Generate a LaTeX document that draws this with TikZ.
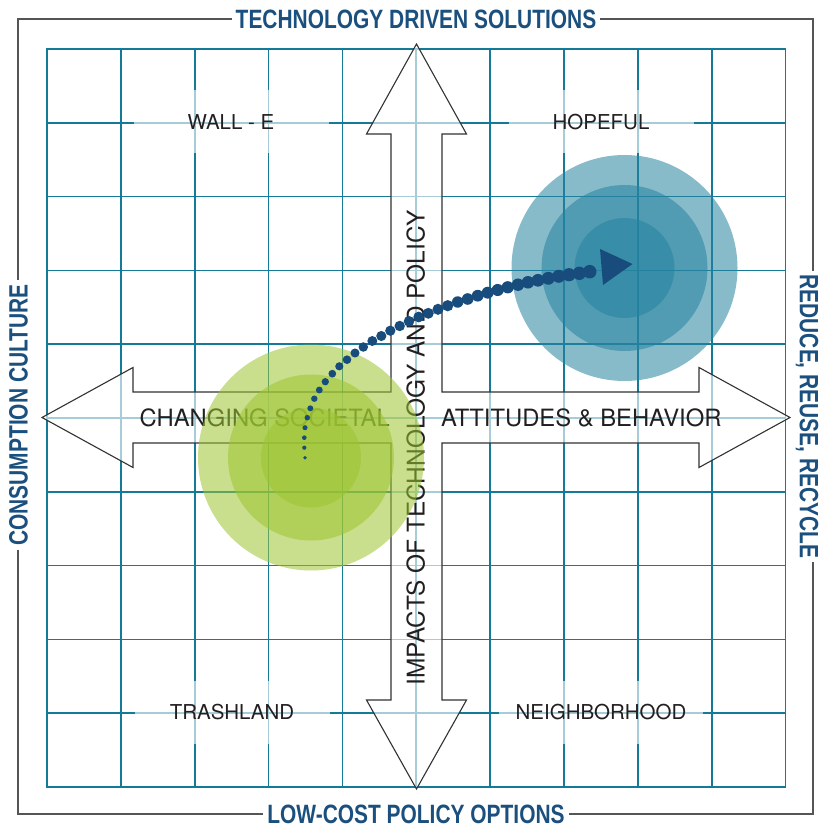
\documentclass[tikz,border=0pt]{standalone}
\usepackage{fontspec}
\setmainfont{TeX Gyre Heros}
\newfontfamily\titlefont[FakeStretch=0.79]{Liberation Sans}
\definecolor{gridteal}{RGB}{20,122,152}
\definecolor{txtgray}{RGB}{35,31,32}
\definecolor{titleblue}{RGB}{27,80,126}
\definecolor{dotblue}{RGB}{24,76,125}
\definecolor{bluecirc}{RGB}{37,132,160}
\definecolor{greencirc}{RGB}{157,197,48}
\definecolor{framegray}{RGB}{85,85,85}
\definecolor{arrowgray}{RGB}{50,50,50}
\tikzset{
  gridline/.style={draw=gridteal, line width=1.7pt, line cap=rect},
  framestyle/.style={draw=framegray, line width=1.4pt},
  quadlabel/.style={fill=white, fill opacity=0.62, text opacity=1, text=txtgray, inner sep=0pt,
    minimum height=63pt, text height=14.7pt, text depth=0pt, font=\fontsize{20.5}{24}\selectfont},
  axislabel/.style={text=txtgray, inner sep=0pt, text height=17pt, text depth=0pt,
    font=\fontsize{23.8}{27}\selectfont},
  vaxislabel/.style={axislabel, font=\fontsize{24.4}{28}\selectfont},
  titlelabel/.style={fill=white, text=titleblue, inner xsep=4pt, inner ysep=1pt, text height=19pt, text depth=0pt,
    font=\titlefont\bfseries\fontsize{26.5}{30}\selectfont},
  arrowshape/.style={fill=white, fill opacity=0.62, draw=arrowgray, draw opacity=1, line width=1.1pt, line join=miter},
  bluedisc/.style={circle, fill=bluecirc, fill opacity=0.55, inner sep=0pt, draw=none},
  greendisc/.style={circle, fill=greencirc, fill opacity=0.55, inner sep=0pt, draw=none},
}
\begin{document}
\begin{tikzpicture}[x=1pt,y=-1pt]
\useasboundingbox (0,0) rectangle (820,826);
\fill[white] (0,0) rectangle (820,826);
% frame
\draw[framestyle] (18,19) rectangle (813,814);
% grid
\foreach \i in {0,...,10}{
  \draw[gridline] ({47+73.85*\i},49) -- ({47+73.85*\i},787);
  \draw[gridline] (47,{49+73.8*\i}) -- (785.5,{49+73.8*\i});
}
% quadrant labels
\node[quadlabel, minimum width=195pt] (walle) at (231,122) {WALL - E};
\node[quadlabel, minimum width=185pt] (hopeful) at (601,122) {HOPEFUL};
\node[quadlabel, minimum width=195pt] (trash) at (232,712) {TRASHLAND};
\node[quadlabel, minimum width=204pt] (neigh) at (601,712) {NEIGHBORHOOD};
% four-way arrow
\filldraw[arrowshape] (416.5,44) -- (466.5,134) -- (442,134) -- (442,392) -- (699,392) -- (699,367.5)
  -- (790,417.5) -- (699,467.5) -- (699,443) -- (442,443) -- (442,700) -- (466.5,700)
  -- (416.5,789) -- (366.5,700) -- (391,700) -- (391,443) -- (133,443) -- (133,467.5)
  -- (42,417.5) -- (133,367.5) -- (133,392) -- (391,392) -- (391,134) -- (366.5,134) -- cycle;
% axis texts
\node[axislabel, anchor=east] (changing) at (390,418.3) {CHANGING SOCIETAL};
\node[axislabel, anchor=west] (attitudes) at (441,418.3) {ATTITUDES \& BEHAVIOR};
\node[vaxislabel, rotate=90] (impacts) at (416,447.5) {IMPACTS OF TECHNOLOGY AND POLICY};
% discs
\node[greendisc, minimum size=226pt] (greenA) at (311,457.5) {};
\node[greendisc, minimum size=166pt] (greenB) at (311,457.5) {};
\node[greendisc, minimum size=100pt] (greenC) at (311,457.5) {};
\node[bluedisc, minimum size=226pt] (blueA) at (624.5,268) {};
\node[bluedisc, minimum size=166pt] (blueB) at (624.5,268) {};
\node[bluedisc, minimum size=100pt] (blueC) at (624.5,268) {};
% dotted arrow
\coordinate (tip) at (632.5,264);
\foreach \px/\py [count=\n] in {305/457.7, 304.3/447.7, 304.3/437.7, 305/427.7, 307.3/417.7,
    310.3/408.3, 314.3/398.7, 319.3/390, 325.3/381.7, 332.3/373.7, 339.3/366.3, 347/359.7,
    355/353, 363.3/347, 372.3/341, 381.3/336, 390.3/330.7, 399.7/326, 409/321.3, 418.7/317,
    428.3/313.3, 438/309.3, 447.7/305.7, 457.7/302, 467.7/299, 477.7/295.7, 487.7/292.7,
    497.7/290, 507.7/287.3, 518/284.7, 528/282.3, 538/280.3, 548.3/278.3, 558.7/276.3,
    569/274.7, 579.3/273.3, 589.7/271.7}{
  \pgfmathsetmacro\dotr{1.17*(\n<=15 ? 1.6+0.19*(\n-1) : 4.26+0.07*(\n-15))}
  \fill[dotblue] (\px,\py) circle[radius=\dotr pt];
}
\fill[dotblue] (600,249) -- (tip) -- (603,285) -- cycle;
% titles
\node[titlelabel] (ttop) at (416,19.5) {TECHNOLOGY DRIVEN SOLUTIONS};
\node[titlelabel] (tbottom) at (416,813.5) {LOW-COST POLICY OPTIONS};
\node[titlelabel, rotate=90] (tleft) at (18,415) {CONSUMPTION CULTURE};
\node[titlelabel, rotate=-90] (tright) at (809.4,416.5) {REDUCE, REUSE, RECYCLE};
\end{tikzpicture}
\end{document}
